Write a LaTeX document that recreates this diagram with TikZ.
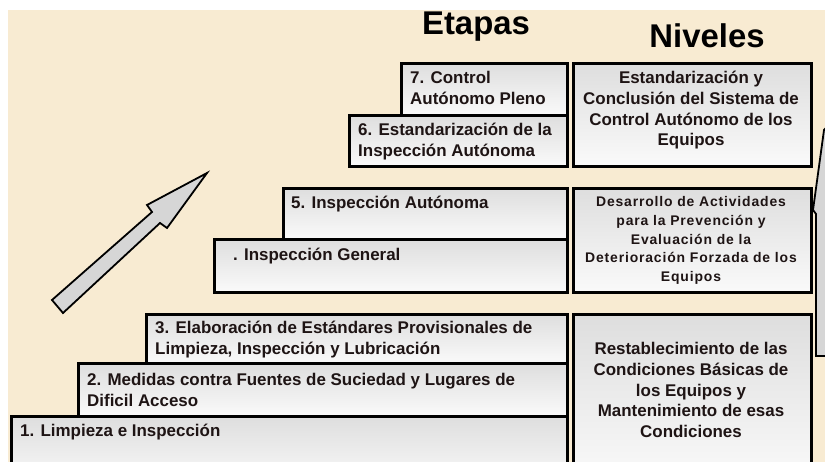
\documentclass[tikz,border=0pt]{standalone}
\usepackage{fontspec}
\setmainfont{Liberation Sans}
\newfontfamily\spacedfont[LetterSpace=6]{Liberation Sans}
\definecolor{bgcol}{HTML}{F8EBD2}
\definecolor{txtcol}{HTML}{1E1414}
\definecolor{arrowcol}{HTML}{D6D6D6}
\newcommand\mystrut{\rule{0pt}{14bp}}
\newcommand\mysmallstrut{\rule{0pt}{12bp}}
\begin{document}
\begin{tikzpicture}[x=1bp,y=-1bp,
  box/.style={draw=black, line width=2.6bp, top color=black!13, bottom color=black!2,
              inner sep=0pt, anchor=north west},
  etxt/.style={anchor=north west, align=left, inner sep=0pt, text=txtcol,
               font=\bfseries\fontsize{17}{21}\selectfont},
  ntxt/.style={anchor=north, align=center, inner sep=0pt, text=txtcol,
               font=\bfseries\fontsize{17}{21}\selectfont},
  nsmall/.style={anchor=north, align=center, inner sep=0pt, text=txtcol,
               font=\spacedfont\bfseries\fontsize{14}{19}\selectfont},
  title/.style={anchor=base, inner sep=0pt, text=black,
               font=\bfseries\fontsize{33}{36}\selectfont},
  arrowshape/.style={fill=arrowcol, draw=black, line width=1.8bp, line join=miter}]
\useasboundingbox (0,0) rectangle (825,462);
\fill[white] (0,0) rectangle (825,462);
\fill[bgcol] (8,10) rectangle (825,462);
\begin{scope}
\clip (0,0) rectangle (825,462);
% titles
\node[title] (etapas) at (476,35) {Etapas};
\node[title] (niveles) at (707,48) {Niveles};
% big arrow
\draw[arrowshape] (52,300) -- (152,212) -- (147,205) -- (207,173) -- (167,228)
  -- (160,223) -- (63,313) -- cycle;
% partial arrow at right edge
\draw[arrowshape] (826,128) -- (824,130) -- (813,210) -- (816,214) -- (816,356) -- (826,356);
% stages 7 and 6
\node[box, minimum width=166bp, minimum height=52bp] (b7) at (400,62) {};
\node[box, minimum width=218bp, minimum height=51bp] (b6) at (348,114) {};
\node[etxt] (t7) at (410,69) {\mystrut 7. Control\\Autónomo Pleno};
\node[etxt] (t6) at (358,121) {\mystrut 6. Estandarización de la\\Inspección Autónoma};
% stages 5 and 4
\node[box, minimum width=284bp, minimum height=51bp] (b5) at (282,187) {};
\node[box, minimum width=353bp, minimum height=53bp] (b4) at (213,238) {};
\node[etxt] (t5) at (291,194) {\mystrut 5. Inspección Autónoma};
\node[etxt] (t4) at (233,246) {\mystrut . Inspección General};
% stages 3, 2, 1
\node[box, minimum width=421bp, minimum height=49bp] (b3) at (145,313) {};
\node[box, minimum width=489bp, minimum height=53bp] (b2) at (77,362) {};
\node[box, minimum width=556bp, minimum height=70bp] (b1) at (10,415) {};
\node[etxt] (t3) at (155,319) {\mystrut 3. Elaboración de Estándares Provisionales de\\Limpieza, Inspección y Lubricación};
\node[etxt] (t2) at (87,371) {\mystrut 2. Medidas contra Fuentes de Suciedad y Lugares de\\Dificil Acceso};
\node[etxt] (t1) at (20,422) {\mystrut 1. Limpieza e Inspección};
% levels
\node[box, minimum width=238bp, minimum height=103bp] (n3) at (572,62) {};
\node[box, minimum width=238bp, minimum height=104bp] (n2) at (572,187) {};
\node[box, minimum width=238bp, minimum height=170bp] (n1) at (572,313) {};
\node[ntxt] (m3) at (691,69) {\mystrut Estandarización y\\Conclusión del Sistema de\\Control Autónomo de los\\Equipos};
\node[nsmall] (m2) at (691,194) {\mysmallstrut Desarrollo de Actividades\\para la Prevención y\\Evaluación de la\\Deterioración Forzada de los\\Equipos};
\node[ntxt] (m1) at (691,340) {\mystrut Restablecimiento de las\\Condiciones Básicas de\\los Equipos y\\Mantenimiento de esas\\Condiciones};
\end{scope}
\end{tikzpicture}
\end{document}
